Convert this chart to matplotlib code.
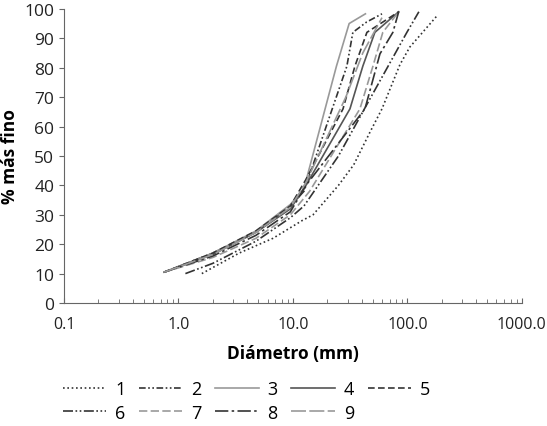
import numpy as np
import matplotlib.pyplot as plt

# curvas granulometricas (diametro mm, % mas fino)
d1 = [1.6, 3.4, 6.7, 12.0, 15.0, 25.0, 34.0, 47.0, 60.0, 86.0, 105.0, 185.0]
p1 = [10.0, 17.0, 22.0, 28.0, 30.0, 40.0, 47.0, 58.0, 66.0, 81.0, 87.0, 98.0]

d2 = [0.75, 2.0, 4.75, 9.5, 12.5, 29.6, 33.4, 44.0, 60.0]
p2 = [10.5, 17.0, 24.0, 33.0, 38.0, 80.5, 92.0, 95.5, 98.3]

d3 = [0.75, 2.0, 4.75, 9.5, 12.5, 24.0, 31.0, 43.0]
p3 = [10.5, 17.0, 24.5, 33.5, 39.0, 80.5, 95.0, 98.3]

d4 = [0.75, 2.0, 4.75, 9.5, 13.0, 31.5, 40.8, 52.0, 84.0]
p4 = [10.5, 16.5, 24.0, 32.0, 40.0, 66.0, 80.5, 92.0, 99.0]

d5 = [0.75, 2.0, 4.75, 9.5, 13.0, 27.4, 34.8, 44.3, 84.0]
p5 = [10.5, 17.0, 24.5, 33.0, 42.0, 66.0, 80.5, 92.0, 99.0]

d6 = [1.15, 2.0, 4.75, 9.5, 12.5, 25.0, 45.0, 99.0, 126.0]
p6 = [10.0, 13.5, 21.0, 29.0, 33.0, 50.0, 68.0, 92.0, 99.0]

d7 = [0.75, 2.0, 4.75, 9.5, 14.0, 38.5, 50.0, 61.0, 84.0]
p7 = [10.5, 15.5, 22.0, 30.0, 38.0, 66.0, 80.5, 92.0, 99.0]

d8 = [0.75, 2.0, 4.75, 9.5, 13.0, 42.6, 57.6, 74.7, 84.0]
p8 = [10.5, 16.0, 23.0, 31.0, 40.0, 66.0, 84.7, 92.0, 99.0]

d9 = [0.75, 2.0, 4.75, 9.5, 13.0, 29.0, 40.8, 60.0]
p9 = [10.5, 16.5, 24.0, 32.5, 41.0, 70.0, 85.0, 97.0]

labels = ['1', '2', '3', '4', '5', '6', '7', '8', '9']

plt.rcParams['font.family'] = ['Open Sans', 'DejaVu Sans']

fig = plt.figure(figsize=(5.47, 4.27), dpi=100)
ax = fig.add_axes([0.117, 0.288, 0.837, 0.689])

dark = '#333333'
grey = '#999999'
styles = [
    dict(color=dark, ls=(0, (1, 1.6))),
    dict(color=dark, ls=(0, (4, 1.5, 1, 1.5, 1, 1.5))),
    dict(color=grey, ls='-'),
    dict(color='#555555', ls='-'),
    dict(color=dark, ls=(0, (4, 2))),
    dict(color=dark, ls=(0, (6, 1.5, 1, 1.5, 1, 1.5))),
    dict(color=grey, ls=(0, (5, 2))),
    dict(color=dark, ls=(0, (8, 2, 1.5, 2))),
    dict(color=grey, ls=(0, (9, 2))),
]

series = [(d1, p1), (d2, p2), (d3, p3), (d4, p4), (d5, p5),
          (d6, p6), (d7, p7), (d8, p8), (d9, p9)]
lines = []
for (d, p), st, lab in zip(series, styles, labels):
    ln, = ax.plot(d, p, lw=1.2, label=lab, **st)
    lines.append(ln)

ax.set_xscale('log')
ax.set_xlim(0.1, 1000)
ax.set_ylim(0, 100)
ax.set_yticks(np.arange(0, 101, 10))
ax.set_xticks([0.1, 1, 10, 100, 1000])
ax.set_xticklabels(['0.1', '1.0', '10.0', '100.0', '1000.0'])
ax.spines['top'].set_visible(False)
ax.spines['right'].set_visible(False)
for s in ['left', 'bottom']:
    ax.spines[s].set_color('#666666')
ax.tick_params(axis='x', which='both', direction='in', colors='#666666',
               labelcolor='#222222', labelsize=11.5, pad=9)
ax.tick_params(axis='x', which='minor', length=3)
ax.tick_params(axis='y', direction='out', colors='#666666',
               labelcolor='#222222', labelsize=12.5)

ax.set_xlabel('Diámetro (mm)', fontsize=12.5, fontweight='bold', labelpad=9)
ax.set_ylabel('% más fino', fontsize=12.5, fontweight='bold')

order = [0, 5, 1, 6, 2, 7, 3, 8, 4]
leg = fig.legend([lines[i] for i in order], [labels[i] for i in order],
                 ncol=5, loc='upper left', bbox_to_anchor=(0.085, 0.145),
                 frameon=False, fontsize=13, handlelength=2.4,
                 columnspacing=0.75, handletextpad=0.5, labelspacing=0.3)

fig.savefig('out.png', dpi=100)
